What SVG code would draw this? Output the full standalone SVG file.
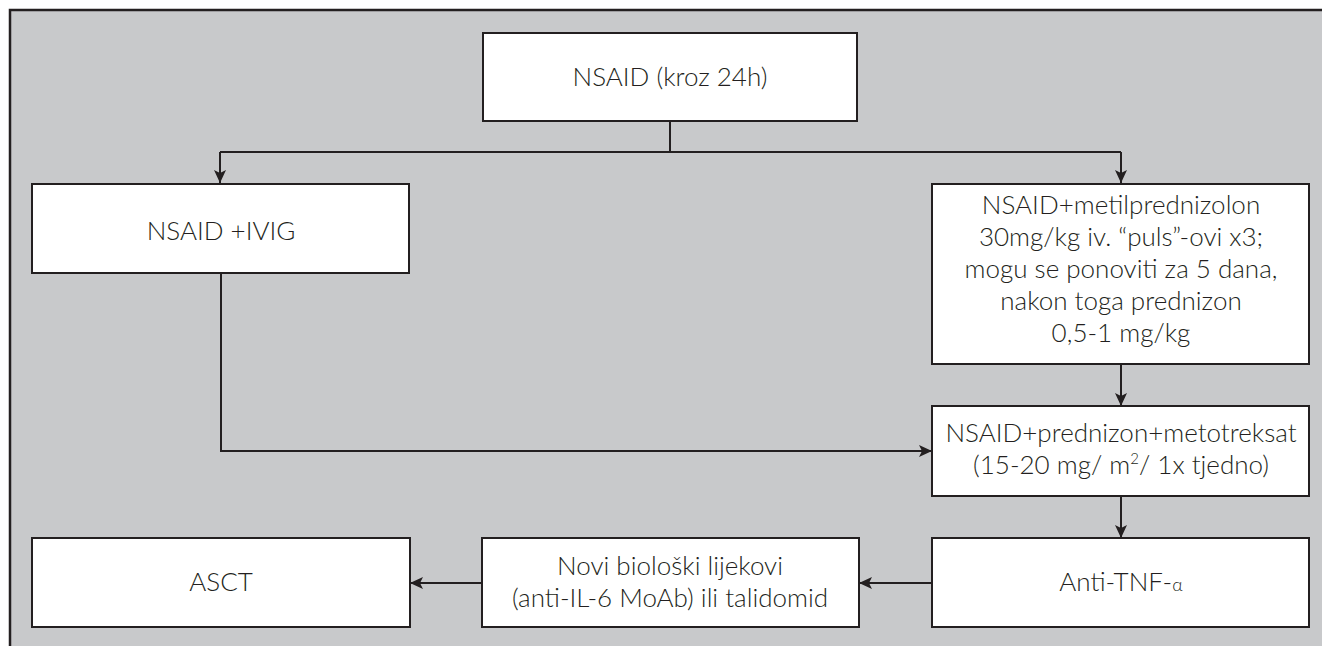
<svg xmlns="http://www.w3.org/2000/svg" width="1322" height="646" viewBox="0 0 1322 646">
<style>
.box{fill:#ffffff;stroke:#231f20;stroke-width:2}
.t{font-family:Lato,"Noto Sans","Liberation Sans",sans-serif;font-size:26px;font-weight:300;fill:#231f20;text-anchor:middle}
.c{fill:none;stroke:#231f20;stroke-width:2}
</style>
<defs>
<marker id="ah" markerUnits="userSpaceOnUse" markerWidth="14" markerHeight="12" refX="13" refY="6" orient="auto">
<path d="M0,0 L13,6 L0,12 L3,6 z" fill="#231f20"/>
</marker>
</defs>
<rect x="0" y="0" width="1322" height="646" fill="#ffffff"/>
<rect x="10" y="10" width="1312" height="636" fill="#c8c9cb"/>
<path d="M10,646 L10,10 L1322,10" fill="none" stroke="#231f20" stroke-width="2.5"/>

<g id="connectors">
<path class="c" d="M670,121 L670,152"/>
<path class="c" d="M220,152 L1121,152"/>
<path class="c" d="M220,152 L220,183" marker-end="url(#ah)"/>
<path class="c" d="M1121,152 L1121,183" marker-end="url(#ah)"/>
<path class="c" d="M221,273 L221,451 L932,451" marker-end="url(#ah)"/>
<path class="c" d="M1121,364 L1121,406" marker-end="url(#ah)"/>
<path class="c" d="M1121,496 L1121,538" marker-end="url(#ah)"/>
<path class="c" d="M932,583 L859,583" marker-end="url(#ah)"/>
<path class="c" d="M482,583 L410,583" marker-end="url(#ah)"/>
</g>

<g id="n-top">
<rect class="box" x="483" y="33" width="374" height="88"/>
<text class="t" x="670" y="86">NSAID (kroz 24h)</text>
</g>
<g id="n-ivig">
<rect class="box" x="32" y="184" width="377" height="89"/>
<text class="t" x="221" y="240">NSAID +IVIG</text>
</g>
<g id="n-metil">
<rect class="box" x="932" y="184" width="377" height="180"/>
<text class="t" x="1121" y="214">NSAID+metilprednizolon</text>
<text class="t" x="1121" y="246">30mg/kg iv. “puls”-ovi x3;</text>
<text class="t" x="1121" y="278">mogu se ponoviti za 5 dana,</text>
<text class="t" x="1121" y="310">nakon toga prednizon</text>
<text class="t" x="1121" y="342">0,5-1 mg/kg</text>
</g>
<g id="n-mtx">
<rect class="box" x="932" y="406" width="377" height="90"/>
<text class="t" x="1121" y="442">NSAID+prednizon+metotreksat</text>
<text class="t" x="1121" y="474">(15-20 mg/ m<tspan font-size="15" dy="-10">2</tspan><tspan dy="10">/ 1x tjedno)</tspan></text>
</g>
<g id="n-tnf">
<rect class="box" x="932" y="538" width="377" height="89"/>
<text class="t" x="1121" y="591">Anti-TNF-<tspan font-size="18">α</tspan></text>
</g>
<g id="n-bio">
<rect class="box" x="482" y="538" width="377" height="89"/>
<text class="t" x="670" y="575">Novi biološki lijekovi</text>
<text class="t" x="670" y="607">(anti-IL-6 MoAb) ili talidomid</text>
</g>
<g id="n-asct">
<rect class="box" x="32" y="538" width="378" height="89"/>
<text class="t" x="221" y="591">ASCT</text>
</g>
</svg>
